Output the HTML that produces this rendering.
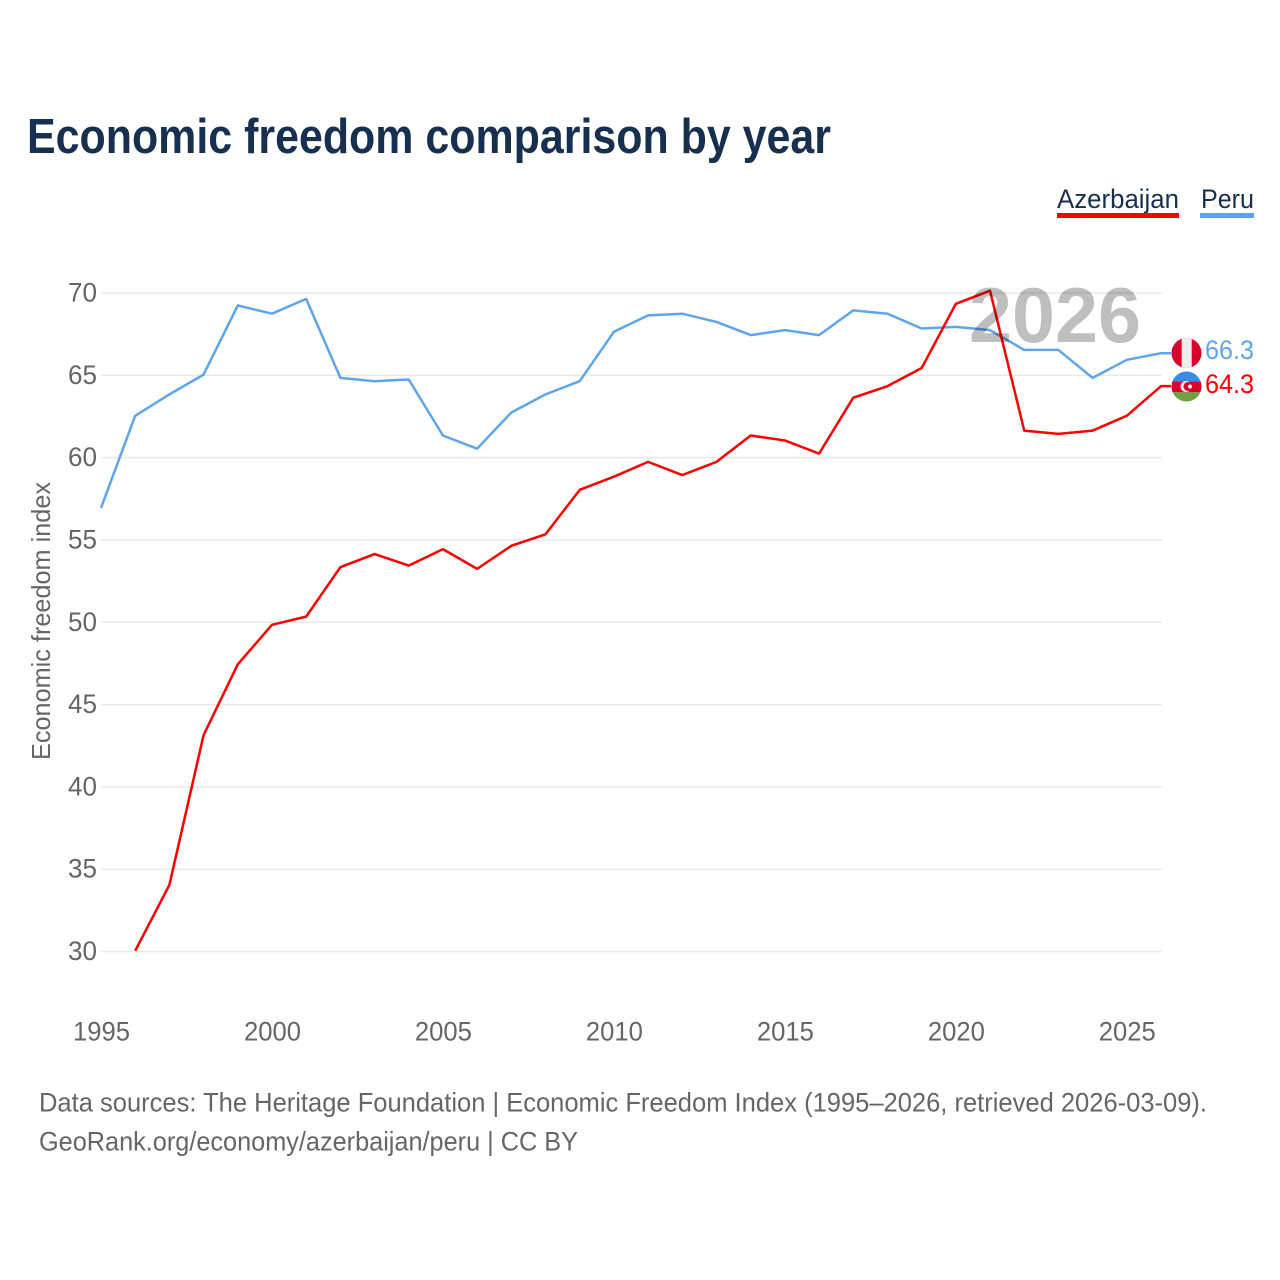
<!DOCTYPE html>
<html lang="en">
<head>
<meta charset="utf-8">
<title>Economic freedom comparison by year</title>
<style>
html,body{margin:0;padding:0;background:#fff;}
svg{display:block;font-family:"Liberation Sans",sans-serif;}
</style>
</head>
<body>
<svg id="chart" xmlns="http://www.w3.org/2000/svg" width="1280" height="1280" viewBox="0 0 1280 1280">
  <rect x="0" y="0" width="1280" height="1280" fill="#fff"/>
  <text x="27" y="153" font-size="49" font-weight="700" fill="#17304f" textLength="804" lengthAdjust="spacingAndGlyphs">Economic freedom comparison by year</text>

  <g id="grid"></g>
  <g id="yticks"></g>
  <g id="xticks"></g>
  <text transform="translate(50,621) rotate(-90)" text-anchor="middle" font-size="26" fill="#666" textLength="278" lengthAdjust="spacingAndGlyphs">Economic freedom index</text>

  <g id="series"></g>

  <text x="969" y="342" font-size="78" font-weight="700" fill="#000" fill-opacity="0.25" textLength="172" lengthAdjust="spacingAndGlyphs">2026</text>

  <g>
    <text x="1057" y="208" font-size="27" fill="#17304f" textLength="122" lengthAdjust="spacingAndGlyphs">Azerbaijan</text>
    <rect x="1057" y="213" width="122" height="5" fill="#ff0000"/>
  </g>
  <g>
    <text x="1201" y="208" font-size="27" fill="#17304f" textLength="53" lengthAdjust="spacingAndGlyphs">Peru</text>
    <rect x="1200" y="213" width="54" height="5" fill="#5fa5ee"/>
  </g>

  <defs>
    <clipPath id="clip-pe"><circle cx="1186.500" cy="353" r="15"/></clipPath>
    <clipPath id="clip-az"><circle cx="1186.500" cy="386.500" r="15"/></clipPath>
  </defs>
  <g clip-path="url(#clip-pe)">
    <rect x="1171" y="337" width="31" height="32" fill="#d9002c"/>
    <rect x="1181.700" y="337" width="10" height="32" fill="#eeeeee"/>
  </g>
  <g clip-path="url(#clip-az)">
    <rect x="1171" y="371" width="31" height="11" fill="#3b8be6"/>
    <rect x="1171" y="381.700" width="31" height="10.600" fill="#d9002c"/>
    <rect x="1171" y="392.300" width="31" height="10" fill="#6da243"/>
    <circle cx="1186" cy="386.500" r="5.500" fill="#eee"/>
    <circle cx="1188" cy="386.500" r="4.500" fill="#d9002c"/>
    <circle cx="1190" cy="386.500" r="2" fill="#eee"/>
  </g>
  <text id="label-peru" x="1205" y="359" font-size="27" fill="#5fa5ee" textLength="49" lengthAdjust="spacingAndGlyphs"></text>
  <text id="label-az" x="1205" y="393" font-size="27" fill="#ff0000" textLength="49" lengthAdjust="spacingAndGlyphs"></text>

  <text x="39" y="1111.500" font-size="27" fill="#666" textLength="1168" lengthAdjust="spacingAndGlyphs">Data sources: The Heritage Foundation | Economic Freedom Index (1995–2026, retrieved 2026-03-09).</text>
  <text x="39" y="1150.500" font-size="27" fill="#666" textLength="539" lengthAdjust="spacingAndGlyphs">GeoRank.org/economy/azerbaijan/peru | CC BY</text>
</svg>
<script>
const years = [1995,1996,1997,1998,1999,2000,2001,2002,2003,2004,2005,2006,2007,2008,2009,2010,2011,2012,2013,2014,2015,2016,2017,2018,2019,2020,2021,2022,2023,2024,2025,2026];
const peruValues = [56.9,62.5,63.8,65,69.2,68.7,69.6,64.8,64.6,64.7,61.3,60.5,62.7,63.8,64.6,67.6,68.6,68.7,68.2,67.4,67.7,67.4,68.9,68.7,67.8,67.9,67.7,66.5,66.5,64.8,65.9,66.3];
const azerbaijanValues = [null,30,34,43.1,47.4,49.8,50.3,53.3,54.1,53.4,54.4,53.2,54.6,55.3,58,58.8,59.7,58.9,59.7,61.3,61,60.2,63.6,64.3,65.4,69.3,70.1,61.6,61.4,61.6,62.5,64.3];
const yTickValues = [30,35,40,45,50,55,60,65,70];
const xTickValues = [1995,2000,2005,2010,2015,2020,2025];

const NS = 'http://www.w3.org/2000/svg';
function xScale(year){ return 101 + (year - 1995) * (1161 - 101) / 31; }
function yScale(v){ return 293 + (70 - v) * (951.5 - 293) / 40; }
function lineY(v){ return yScale(v) - 0.7; }

const grid = document.getElementById('grid');
const yticks = document.getElementById('yticks');
const xticks = document.getElementById('xticks');
const seriesGroup = document.getElementById('series');

yTickValues.forEach(function(v){
  const line = document.createElementNS(NS, 'line');
  
  
  line.setAttribute('x1', 101);
  line.setAttribute('x2', 1162);
  line.setAttribute('y1', yScale(v));
  line.setAttribute('y2', yScale(v));
  line.setAttribute('stroke', '#e9e9e9');
  line.setAttribute('stroke-width', '1.5');
  grid.appendChild(line);

  const t = document.createElementNS(NS, 'text');
  
  
  t.setAttribute('x', 97);
  t.setAttribute('y', yScale(v) + 8.5);
  t.setAttribute('text-anchor', 'end');
  t.setAttribute('font-size', '27');
  t.setAttribute('fill', '#666');
  t.setAttribute('textLength', '29');
  t.setAttribute('lengthAdjust', 'spacingAndGlyphs');
  t.textContent = String(v);
  yticks.appendChild(t);
});

xTickValues.forEach(function(y){
  const t = document.createElementNS(NS, 'text');
  
  
  t.setAttribute('x', xScale(y) + 0.5);
  t.setAttribute('y', 1040.500);
  t.setAttribute('text-anchor', 'middle');
  t.setAttribute('font-size', '27');
  t.setAttribute('fill', '#666');
  t.setAttribute('textLength', '57');
  t.setAttribute('lengthAdjust', 'spacingAndGlyphs');
  t.textContent = String(y);
  xticks.appendChild(t);
});

function linePath(values){
  let d = '';
  values.forEach(function(v, i){
    if (v === null) return;
    d += (d ? 'L' : 'M') + xScale(years[i]).toFixed(2) + ' ' + lineY(v).toFixed(2);
  });
  // short leader from the final point into the flag marker
  const last = values[values.length - 1];
  d += 'L' + (xScale(years[years.length - 1]) + 10).toFixed(2) + ' ' + lineY(last).toFixed(2);
  return d;
}

const peruLine = document.createElementNS(NS, 'path');


peruLine.setAttribute('d', linePath(peruValues));
peruLine.setAttribute('fill', 'none');
peruLine.setAttribute('stroke', '#5fa5ee');
peruLine.setAttribute('stroke-width', '2.5');
peruLine.setAttribute('stroke-linejoin', 'round');
seriesGroup.appendChild(peruLine);

const azLine = document.createElementNS(NS, 'path');


azLine.setAttribute('d', linePath(azerbaijanValues));
azLine.setAttribute('fill', 'none');
azLine.setAttribute('stroke', '#ff0000');
azLine.setAttribute('stroke-width', '2.5');
azLine.setAttribute('stroke-linejoin', 'round');
seriesGroup.appendChild(azLine);

document.getElementById('label-peru').textContent = peruValues[peruValues.length - 1].toFixed(1);
document.getElementById('label-az').textContent = azerbaijanValues[azerbaijanValues.length - 1].toFixed(1);
</script>
</body>
</html>
